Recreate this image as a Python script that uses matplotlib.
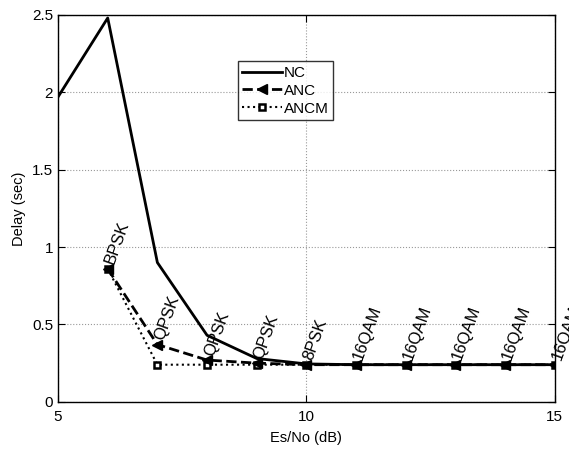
import matplotlib
matplotlib.use("Agg")
import matplotlib.pyplot as plt

plt.rcParams['font.family'] = ['Liberation Sans', 'DejaVu Sans']

snr = [5, 6, 7, 8, 9, 10, 11, 12, 13, 14, 15]
nc = [1.97, 2.48, 0.90, 0.43, 0.28, 0.245, 0.24, 0.24, 0.24, 0.24, 0.24]
snr_anc = [6, 7, 8, 9, 10, 11, 12, 13, 14, 15]
anc = [0.86, 0.37, 0.27, 0.25, 0.24, 0.24, 0.24, 0.24, 0.24, 0.24]
ancm = [0.86, 0.24, 0.24, 0.24, 0.24, 0.24, 0.24, 0.24, 0.24, 0.24]
mods = ['BPSK', 'QPSK', 'QPSK', 'QPSK', '8PSK', '16QAM', '16QAM', '16QAM', '16QAM', '16QAM']

fig = plt.figure(figsize=(5.69, 4.51), dpi=100)
ax = fig.add_axes([0.102, 0.109, 0.873, 0.858])

ax.plot(snr, nc, '-', color='black', lw=2, label='NC')
ax.plot(snr_anc, ancm, ':', color='black', lw=1.5, marker='s', ms=5,
        markerfacecolor='white', markeredgewidth=1.8, label='ANCM')
ax.plot(snr_anc, anc, '--', color='black', lw=2, marker='<', ms=7.5, label='ANC')

for x, y, m in zip(snr_anc, anc, mods):
    ax.annotate(m, (x, y), xytext=(1.2, 3.5), textcoords='offset points',
                rotation=70, ha='left', va='center',
                rotation_mode='anchor', fontsize=12, annotation_clip=False)

ax.set_xlim(5, 15)
ax.set_ylim(0, 2.5)
ax.set_xticks([5, 10, 15])
ax.set_yticks([0, 0.5, 1, 1.5, 2, 2.5])
ax.set_yticklabels(['0', '0.5', '1', '1.5', '2', '2.5'])
ax.grid(True, linestyle=':', color='#999999', lw=0.8)
ax.tick_params(direction='in', top=True, right=True, labelsize=11, length=5)
ax.tick_params(axis='x', pad=6)
for s in ax.spines.values():
    s.set_linewidth(1.0)
ax.set_xlabel('Es/No (dB)', fontsize=10.5, labelpad=5)
ax.set_ylabel('Delay (sec)', fontsize=10.5)

h, l = ax.get_legend_handles_labels()
order = [0, 2, 1]
leg = ax.legend([h[i] for i in order], [l[i] for i in order],
                loc='upper left', bbox_to_anchor=(0.362, 0.88), fontsize=11,
                frameon=True, fancybox=False, edgecolor='black',
                handlelength=2.6, borderpad=0.3, labelspacing=0.25,
                handletextpad=0.1, borderaxespad=0)
leg.get_frame().set_linewidth(1.0)

fig.savefig('out.png', dpi=100)
